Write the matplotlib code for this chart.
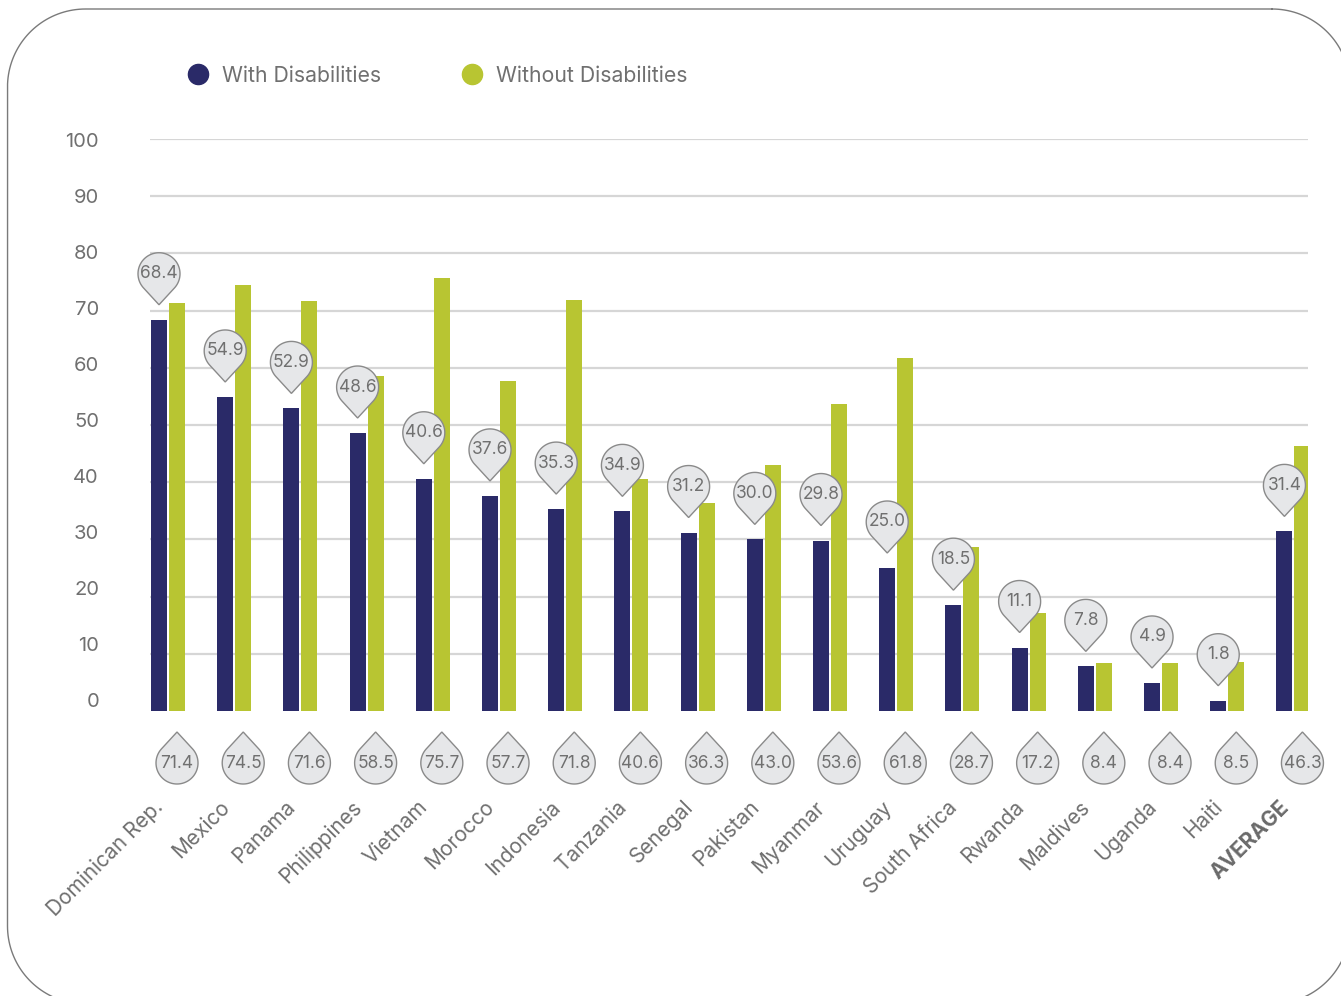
import numpy as np
import matplotlib
matplotlib.use('Agg')
import matplotlib.pyplot as plt
from matplotlib import transforms
from matplotlib.patches import Polygon
from matplotlib.lines import Line2D

plt.rcParams['font.family'] = ['Inter', 'DejaVu Sans']

# --- data ---
countries = ['Dominican Rep.', 'Mexico', 'Panama', 'Philippines', 'Vietnam',
             'Morocco', 'Indonesia', 'Tanzania', 'Senegal', 'Pakistan',
             'Myanmar', 'Uruguay', 'South Africa', 'Rwanda', 'Maldives',
             'Uganda', 'Haiti', 'AVERAGE']
with_disab = [68.4, 54.9, 52.9, 48.6, 40.6, 37.6, 35.3, 34.9, 31.2, 30.0,
              29.8, 25.0, 18.5, 11.1, 7.8, 4.9, 1.8, 31.4]
without_disab = [71.4, 74.5, 71.6, 58.5, 75.7, 57.7, 71.8, 40.6, 36.3, 43.0,
                 53.6, 61.8, 28.7, 17.2, 8.4, 8.4, 8.5, 46.3]
y_ticks = [0, 10, 20, 30, 40, 50, 60, 70, 80, 90, 100]
legend_labels = ['With Disabilities', 'Without Disabilities']

NAVY = '#2a2a68'
GREEN = '#b8c532'
GRID = '#d6d6d6'
TEXT = '#707070'
PIN_FILL = '#e6e7e9'
PIN_EDGE = '#8a8a8a'

W, H = 1341, 996
fig = plt.figure(figsize=(W / 100, H / 100), dpi=100)
ax = fig.add_axes([150 / W, (H - 711) / H, (1308 - 150) / W, (711 - 139) / H])

x = np.arange(len(countries))
off = 0.136
bw = 0.242
ax.bar(x - off, with_disab, width=bw, color=NAVY, zorder=2)
ax.bar(x + off, without_disab, width=bw, color=GREEN, zorder=2)
ax.set_xlim(-0.272, 17.22)
ax.set_ylim(0, 100)
for s in ax.spines.values():
    s.set_visible(False)
ax.set_xticks([])
ax.set_yticks([])

for t in y_ticks[1:]:
    ax.axhline(t, color=GRID, lw=1.6, zorder=1)
# tick labels sit a little above their gridlines, spaced slightly tighter
for t in y_ticks:
    ax.annotate(str(t), xy=(0, t), xycoords=('axes fraction', 'data'),
                xytext=(-51, 9 - 0.12 * t), textcoords='offset pixels',
                ha='right', va='center', fontsize=14.5, color=TEXT)

# pin geometry in pixels
R = 21.0
D = 31.0
alpha = np.degrees(np.arccos(R / D))
arc = np.radians(np.linspace(-90 + alpha, 270 - alpha, 80))


def draw_pin(xd, yd, cy, up=True):
    # cy: pixel offset of circle centre from the anchor point
    sgn = 1 if up else -1
    pts = np.column_stack([R * np.cos(arc), cy + sgn * R * np.sin(arc)])
    pts = np.vstack([pts, [0, cy - sgn * D]]) / 100.0
    trans = fig.dpi_scale_trans + transforms.ScaledTranslation(xd, yd, ax.transData)
    ax.add_patch(Polygon(pts, closed=True, transform=trans, facecolor=PIN_FILL,
                         edgecolor=PIN_EDGE, lw=1.0, zorder=4, clip_on=False))


for i in range(len(countries)):
    v = with_disab[i]
    draw_pin(x[i] - off, v, 46, up=True)
    ax.annotate(f'{v:.1f}', xy=(x[i] - off, v), xytext=(0, 46),
                textcoords='offset pixels', ha='center', va='center',
                fontsize=12.5, color=TEXT, zorder=5, annotation_clip=False)
    w = without_disab[i]
    draw_pin(x[i] + off, 0, -52, up=False)
    ax.annotate(f'{w:.1f}', xy=(x[i] + off, 0), xytext=(0, -52),
                textcoords='offset pixels', ha='center', va='center',
                fontsize=12.5, color=TEXT, zorder=5, annotation_clip=False)
    bold = countries[i] == 'AVERAGE'
    ax.annotate(countries[i], xy=(x[i], 0), xytext=(-8, -93),
                textcoords='offset pixels', rotation=45, rotation_mode='anchor',
                ha='right', va='center', fontsize=15,
                color='#6a6a6a' if bold else TEXT,
                fontweight='bold' if bold else 'normal', annotation_clip=False)

# legend
for cx, col, lab, tx in [(198, NAVY, legend_labels[0], 222),
                         (472, GREEN, legend_labels[1], 496)]:
    fig.add_artist(Line2D([cx / W], [1 - 74 / H], marker='o', markersize=14.5,
                          color=col, transform=fig.transFigure))
    fig.text(tx / W, 1 - 76 / H, lab, ha='left', va='center',
             fontsize=15.3, color=TEXT)

# rounded frame, built in pixel space (runs past the right and bottom edges)
fx0, fx1, fy_top, fy_bot, fr = 7.5, 1350.0, 9.0, 1004.0, 78.0
corners = [((fx1 - fr, fy_top + fr), 90, 0),      # top-right
           ((fx1 - fr, fy_bot - fr), 0, -90),     # bottom-right
           ((fx0 + fr, fy_bot - fr), -90, -180),  # bottom-left
           ((fx0 + fr, fy_top + fr), 180, 90)]    # top-left
fpts = []
for (cx, cy), a0, a1 in corners:
    a = np.radians(np.linspace(a0, a1, 40))
    fpts.append(np.column_stack([cx + fr * np.cos(a), cy - fr * np.sin(a)]))
fpts = np.vstack(fpts)
fpts = np.vstack([fpts, fpts[:1]])
fig.add_artist(Line2D(fpts[:, 0] / 100.0, (H - fpts[:, 1]) / 100.0,
                      transform=fig.dpi_scale_trans, color='#7a7a7a', lw=1.0))

fig.savefig('out.png', dpi=100)
